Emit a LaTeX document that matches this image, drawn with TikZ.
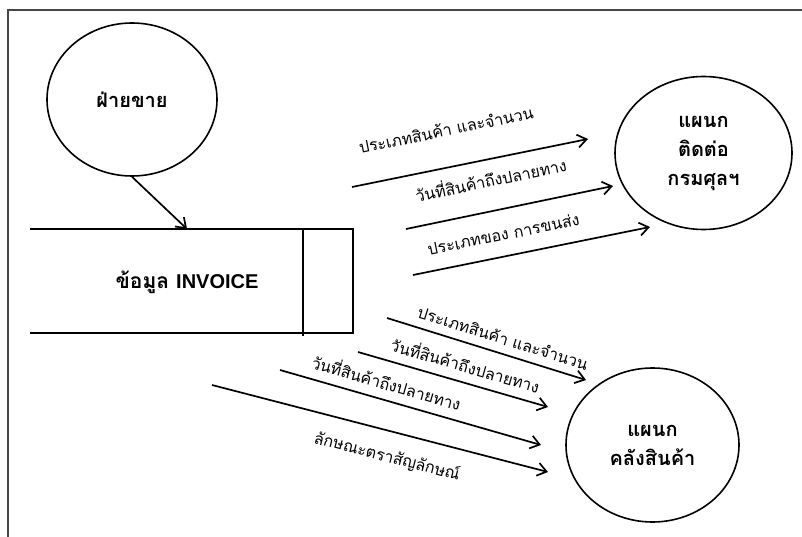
\documentclass[tikz,border=0pt]{standalone}
\usepackage{fontspec}
\setmainfont{Liberation Sans}
\newfontfamily\thaifont[Script=Thai]{Loma}
\usetikzlibrary{arrows.meta,shapes.geometric}

\begin{document}
\begin{tikzpicture}[x=1pt,y=-1pt,
  ent/.style={ellipse,draw,line width=1.6pt,inner sep=0pt,
              font=\thaifont\bfseries\fontsize{20}{29}\selectfont,align=center},
  flow/.style={line width=1.7pt,-{Straight Barb[length=9pt,width=13pt,line width=1.7pt]}},
  lbl/.style={font=\thaifont\fontsize{16}{18}\selectfont,sloped,inner sep=0pt},
  frameline/.style={line width=2pt,draw=black!72}]
\useasboundingbox (0,0) rectangle (802,537);

% page frame
\draw[frameline] (8,537) -- (8,10) -- (802,10);

% external entities
\node[ent,minimum width=170pt,minimum height=153pt] (sales) at (132,99.5) {ฝ่ายขาย};
\node[ent,minimum width=177pt,minimum height=153pt] (customs) at (703.5,153) {แผนก\\ติดต่อ\\กรมศุลฯ};
\node[ent,minimum width=173pt,minimum height=154pt] (stock) at (652.5,445) {แผนก\\คลังสินค้า};

% data store (open on the left)
\node[minimum width=323pt,minimum height=104pt,inner sep=0pt] (store) at (191.5,281) {};
\draw[line width=1.7pt] (store.north west) -- (store.north east) -- (store.south east) -- (store.south west);
\draw[line width=1.7pt] (303,229) -- (303,336);
\node[font=\thaifont\bfseries\fontsize{21}{24}\selectfont] (storetxt) at (187,282) {ข้อมูล {\fontspec{Liberation Sans}\bfseries\fontsize{20}{24}\selectfont INVOICE}};

% sales -> store
\coordinate (storein) at (187,229);
\draw[flow] (sales.south) -- (storein);

% flows towards customs
\coordinate (t1s) at (352,187); \coordinate (t1e) at (588,139);
\coordinate (t2s) at (406,229); \coordinate (t2e) at (613,186);
\coordinate (t3s) at (413,275); \coordinate (t3e) at (650,227);
\draw[flow] (t1s) -- node[lbl,pos=0.43,above=30pt] (l1) {ประเภทสินค้า และจำนวน} (t1e);
\draw[flow] (t2s) -- node[lbl,pos=0.44,above=23pt] (l2) {วันที่สินค้าถึงปลายทาง} (t2e);
\draw[flow] (t3s) -- node[lbl,pos=0.40,above=15pt] (l3) {ประเภทของ การขนส่ง} (t3e);

% flows towards warehouse
\coordinate (b1s) at (387,318); \coordinate (b1e) at (586,380);
\coordinate (b2s) at (358,352); \coordinate (b2e) at (548,407);
\coordinate (b3s) at (280,370); \coordinate (b3e) at (541,445);
\coordinate (b4s) at (212,385); \coordinate (b4e) at (548,472);
\draw[flow] (b1s) -- node[lbl,pos=0.56,above=8pt] (l4) {ประเภทสินค้า และจำนวน} (b1e);
\draw[flow] (b2s) -- node[lbl,pos=0.54,above=9pt] (l5) {วันที่สินค้าถึงปลายทาง} (b2e);
\draw[flow] (b3s) -- node[lbl,pos=0.39,above=9pt] (l6) {วันที่สินค้าถึงปลายทาง} (b3e);
\draw[flow] (b4s) -- node[lbl,pos=0.54,below=16pt] (l7) {ลักษณะตราสัญลักษณ์} (b4e);
\end{tikzpicture}
\end{document}
